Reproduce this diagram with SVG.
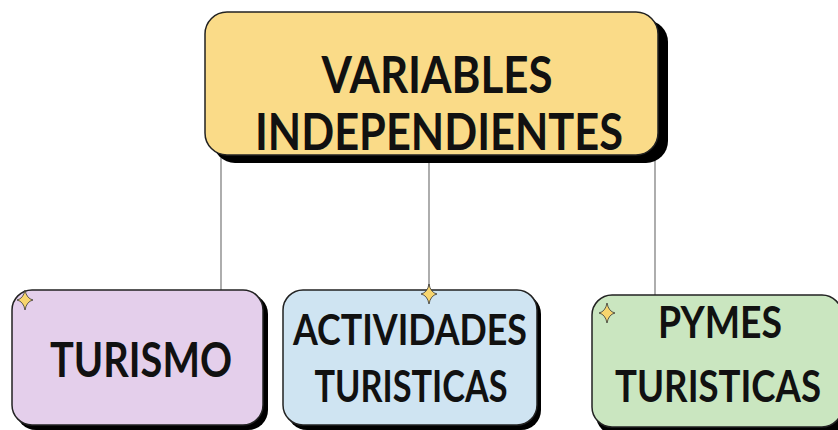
<svg xmlns="http://www.w3.org/2000/svg" width="838" height="430" viewBox="0 0 838 430">
<defs>
<style>
.lbl{font-family:Lato,"Liberation Sans",sans-serif;font-weight:700;fill:#111;text-anchor:middle}
.box{stroke:#222;stroke-width:1.5}
.sh{fill:#000}
.conn{stroke:#777;stroke-width:1.2;fill:none}
.star{fill:#F7D56E;stroke:#333;stroke-width:0.8}
</style>
<path id="spark" d="M0,-10 Q1.5,-1.5 8,0 Q1.5,1.5 0,10 Q-1.5,1.5 -8,0 Q-1.5,-1.5 0,-10Z"/>
</defs>
<rect width="838" height="430" fill="#fff"/>
<g id="connectors">
<line class="conn" x1="221" y1="150" x2="221" y2="291"/>
<line class="conn" x1="429" y1="160" x2="429" y2="291"/>
<line class="conn" x1="655" y1="160" x2="655" y2="296"/>
</g>
<g id="node-variables">
<rect class="sh" x="213" y="20" width="455" height="143" rx="22"/>
<rect class="box" x="205" y="12" width="453" height="143" rx="22" fill="#FADB88"/>
<text class="lbl" x="437" y="93" font-size="52" textLength="231" lengthAdjust="spacingAndGlyphs">VARIABLES</text>
<text class="lbl" x="439" y="150" font-size="52" textLength="368" lengthAdjust="spacingAndGlyphs">INDEPENDIENTES</text>
</g>
<g id="node-turismo">
<rect class="sh" x="16" y="294" width="252" height="136" rx="20"/>
<rect class="box" x="12" y="290" width="251" height="135" rx="20" fill="#E4CFEB"/>
<text class="lbl" x="141" y="377" font-size="48" textLength="182" lengthAdjust="spacingAndGlyphs">TURISMO</text>
<use href="#spark" class="star" x="25" y="300"/>
</g>
<g id="node-actividades">
<rect class="sh" x="287" y="294" width="254" height="136" rx="20"/>
<rect class="box" x="283" y="290" width="254" height="135" rx="20" fill="#CFE4F2"/>
<text class="lbl" x="410" y="345" font-size="42" textLength="234" lengthAdjust="spacingAndGlyphs">ACTIVIDADES</text>
<text class="lbl" x="411" y="402" font-size="44" textLength="193" lengthAdjust="spacingAndGlyphs">TURISTICAS</text>
<use href="#spark" class="star" x="429" y="294"/>
</g>
<g id="node-pymes">
<rect class="sh" x="596" y="299" width="250" height="136" rx="20"/>
<rect class="box" x="592" y="295" width="250" height="132" rx="20" fill="#CAE6C0"/>
<text class="lbl" x="720" y="338" font-size="43" textLength="124" lengthAdjust="spacingAndGlyphs">PYMES</text>
<text class="lbl" x="718" y="402" font-size="44" textLength="206" lengthAdjust="spacingAndGlyphs">TURISTICAS</text>
<use href="#spark" class="star" x="607" y="313"/>
</g>
</svg>
